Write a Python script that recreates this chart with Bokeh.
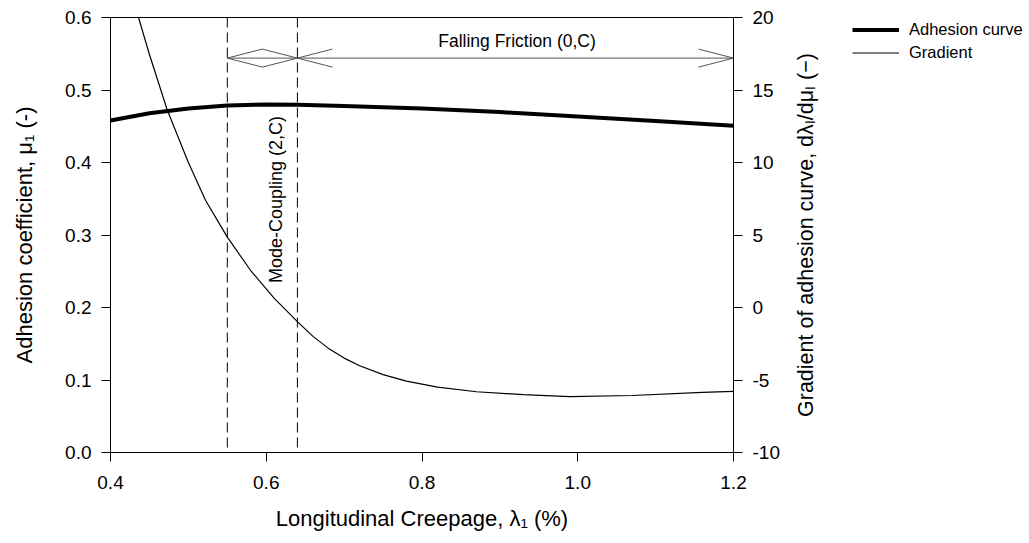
from bokeh.plotting import figure
from bokeh.layouts import row
from bokeh.models import (Range1d, LinearAxis, FixedTicker, NumeralTickFormatter,
                          Span, Legend, LegendItem, Label)
from bokeh.embed import file_html
from bokeh.resources import INLINE

# ---- data ----
creepage = [0.40, 0.45, 0.50, 0.55, 0.60, 0.64, 0.70, 0.80, 0.90, 1.00, 1.10, 1.20]
adhesion = [0.458, 0.468, 0.4745, 0.4786, 0.4800, 0.4796, 0.4780, 0.4745, 0.4695,
            0.4635, 0.4572, 0.4506]

grad_x = [0.436, 0.45, 0.473, 0.50, 0.522, 0.55, 0.58, 0.61, 0.64, 0.66, 0.68, 0.70,
          0.72, 0.75, 0.78, 0.82, 0.87, 0.93, 0.99, 1.07, 1.16, 1.20]
grad_y = [20.0, 17.45, 13.6, 10.0, 7.4, 4.85, 2.55, 0.65, -0.97, -1.99, -2.82, -3.49,
          -4.02, -4.63, -5.08, -5.49, -5.81, -6.01, -6.14, -6.07, -5.86, -5.79]

region_bounds = [0.55, 0.64]
arrow_start = [0.55, 0.64]
arrow_end = [0.64, 1.20]
arrow_level = 0.544
region_names = ["Mode-Coupling (2,C)", "Falling Friction (0,C)"]
series_names = ["Adhesion curve", "Gradient"]

x_ticks = [0.4, 0.6, 0.8, 1.0, 1.2]
y_ticks = [0.0, 0.1, 0.2, 0.3, 0.4, 0.5, 0.6]
y2_ticks = [-10, -5, 0, 5, 10, 15, 20]

FONT = "Liberation Sans"
W, H = 1029, 543
W1 = 790                      # main plot part
BL, BR, BT, BB = 110, W1 - 733, 17, 91
X0, X1 = 0.4, 1.2
Y0, Y1 = 0.0, 0.6
fw = W1 - BL - BR
fh = H - BT - BB

p = figure(width=W1, height=H, output_backend="svg", toolbar_location=None,
           x_range=Range1d(X0, X1), y_range=Range1d(Y0, Y1),
           min_border_left=BL, min_border_right=BR, min_border_top=BT,
           min_border_bottom=BB)
p.extra_y_ranges = {"grad": Range1d(-10, 20)}
p.grid.visible = False
p.outline_line_color = "black"
p.outline_line_width = 1
p.background_fill_color = "white"
p.border_fill_color = "white"

def style_axis(ax, ticks, fmt):
    ax.ticker = FixedTicker(ticks=ticks)
    if fmt:
        ax.formatter = NumeralTickFormatter(format=fmt)
    ax.major_tick_in = 0
    ax.major_tick_out = 9
    ax.minor_tick_line_color = None
    ax.axis_line_color = "black"
    ax.major_tick_line_color = "black"
    ax.major_label_text_font = FONT
    ax.major_label_text_font_size = "19px"
    ax.major_label_text_color = "black"
    ax.axis_label_text_font = FONT
    ax.axis_label_text_font_size = "22px"
    ax.axis_label_text_font_style = "normal"
    ax.axis_label_text_color = "black"
    ax.major_label_standoff = 10

style_axis(p.xaxis[0], x_ticks, "0.0")
p.xaxis[0].axis_label = "Longitudinal Creepage, λ₁ (%)"
p.xaxis[0].axis_label_standoff = 14
p.xaxis[0].major_label_standoff = 14

style_axis(p.yaxis[0], y_ticks, "0.0")
p.yaxis[0].axis_label = "Adhesion coefficient, μ₁ (-)"
p.yaxis[0].axis_label_standoff = 25

ax2 = LinearAxis(y_range_name="grad")
style_axis(ax2, y2_ticks, "0")
p.add_layout(ax2, "right")

# region boundaries (dashed)
for b in region_bounds:
    p.add_layout(Span(location=b, dimension="height", line_color="black",
                      line_width=1, line_dash="10 5"))

# arrows with long open heads
hdx = 35 / (fw / (X1 - X0))
hdy = 9 / (fh / (Y1 - Y0))
sx0, sy0, sx1, sy1 = [], [], [], []
for a, b in zip(arrow_start, arrow_end):
    sx0.append(a); sy0.append(arrow_level); sx1.append(b); sy1.append(arrow_level)
    for s in (1, -1):
        sx0.append(a); sy0.append(arrow_level); sx1.append(a + hdx); sy1.append(arrow_level + s * hdy)
        sx0.append(b); sy0.append(arrow_level); sx1.append(b - hdx); sy1.append(arrow_level + s * hdy)
p.segment(x0=sx0, y0=sy0, x1=sx1, y1=sy1, line_color="#555555", line_width=1)

# region labels
p.add_layout(Label(x=0.612, y=0.349, text=region_names[0], angle=90, angle_units="deg",
                   text_align="center", text_baseline="middle", text_font=FONT,
                   text_font_size="18px", text_color="black"))
p.add_layout(Label(x=0.922, y=0.568, text=region_names[1],
                   text_align="center", text_baseline="middle", text_font=FONT,
                   text_font_size="17.5px", text_color="black"))

# curves
r1 = p.line(creepage, adhesion, line_color="black", line_width=4)
r2 = p.line(grad_x, grad_y, y_range_name="grad", line_color="black", line_width=1.2)

# ---- right-hand strip: right-axis title (reads bottom-to-top) + legend ----
W2 = W - W1
q = figure(width=W2, height=H, output_backend="svg", toolbar_location=None,
           x_range=Range1d(0, 0.1), y_range=Range1d(0, 0.1),
           min_border_left=0, min_border_right=0, min_border_top=BT,
           min_border_bottom=BB)
q.grid.visible = False
q.xaxis.visible = False
q.outline_line_color = None
q.background_fill_color = "white"
q.border_fill_color = "white"
ya = q.yaxis[0]
ya.ticker = FixedTicker(ticks=[])
ya.axis_line_color = None
ya.major_tick_line_color = None
ya.minor_tick_line_color = None
ya.major_label_text_font_size = "0px"
ya.axis_label = "Gradient of adhesion curve, dλₗ/dμₗ (−)"
ya.axis_label_text_font = FONT
ya.axis_label_text_font_size = "21.5px"
ya.axis_label_text_font_style = "normal"
ya.axis_label_text_color = "black"
ya.axis_label_standoff = -4

# legend proxies: same series, lying outside this strip's (empty) ranges
lr1 = q.line(creepage, adhesion, line_color="black", line_width=4)
lr2 = q.line(grad_x, grad_y, line_color="black", line_width=1.2)
legend = Legend(items=[LegendItem(label=series_names[0], renderers=[lr1]),
                       LegendItem(label=series_names[1], renderers=[lr2])],
                location=(39, fh - 2 - 44), padding=0, margin=0, spacing=2,
                glyph_width=47, glyph_height=21, label_standoff=10,
                label_text_font=FONT, label_text_font_size="16.5px",
                label_text_color="black",
                border_line_color=None, background_fill_alpha=0)
q.add_layout(legend, "center")

layout = row(p, q, spacing=0)
open("out.html", "w").write(file_html(layout, INLINE))
